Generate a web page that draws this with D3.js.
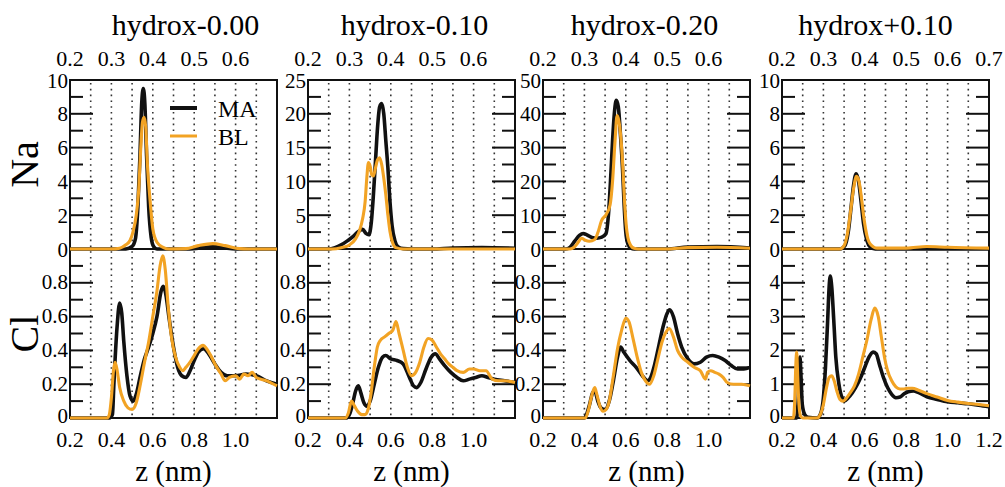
<!DOCTYPE html>
<html>
<head>
<meta charset="utf-8">
<script src="https://cdn.jsdelivr.net/npm/d3@7"></script>
<style>
  html, body { margin: 0; padding: 0; background: #fff; }
  svg { display: block; }
</style>
</head>
<body>
<svg id="chart" width="1005" height="487"></svg>
<script>
// ---- panel titles and axis settings ----
const titles = ["hydrox-0.00", "hydrox-0.10", "hydrox-0.20", "hydrox+0.10"];
const naMax = [10, 25, 50, 10];
const naLabels = [[0, 2, 4, 6, 8, 10], [0, 5, 10, 15, 20, 25], [0, 10, 20, 30, 40, 50], [0, 2, 4, 6, 8, 10]];
const naMinorStep = [1, 2.5, 5, 1];
const clMax = [1, 1, 1, 5];
const clLabels = [[0, 0.2, 0.4, 0.6, 0.8], [0, 0.2, 0.4, 0.6, 0.8], [0, 0.2, 0.4, 0.6, 0.8], [0, 1, 2, 3, 4]];
const clMinorStep = [0.1, 0.1, 0.1, 0.5];
const topLabels = [[0.2, 0.3, 0.4, 0.5, 0.6], [0.2, 0.3, 0.4, 0.5, 0.6], [0.2, 0.3, 0.4, 0.5, 0.6], [0.2, 0.3, 0.4, 0.5, 0.6, 0.7]];
const bottomLabels = [[0.2, 0.4, 0.6, 0.8, 1.0], [0.2, 0.4, 0.6, 0.8, 1.0], [0.2, 0.4, 0.6, 0.8, 1.0], [0.2, 0.4, 0.6, 0.8, 1.0, 1.2]];
const gridZ = [0.3, 0.4, 0.5, 0.6, 0.7, 0.8, 0.9, 1.0, 1.1];
const topDomain = [0.2, 0.7];
const bottomDomain = [0.2, 1.2];
const rightTicks = [false, true, true, true];

// ---- Na density profiles, [z, density] (upper axis) ----
const naMA = [
  [[0.2,0],[0.335,0],[0.35,0.15],[0.358,0.6],[0.364,2.5],[0.369,5.5],[0.373,8.5],[0.377,9.5],[0.381,8.5],[0.385,5.5],[0.39,2.5],[0.396,0.7],[0.402,0.15],[0.41,0],[0.49,0],[0.52,0.08],[0.545,0.15],[0.57,0.08],[0.6,0],[0.7,0]],
  [[0.2,0],[0.25,0],[0.265,0.2],[0.28,0.6],[0.295,1.2],[0.31,1.9],[0.322,2.6],[0.332,2.9],[0.34,2.3],[0.347,2.1],[0.353,4],[0.358,8],[0.363,13],[0.368,18],[0.373,21],[0.378,21.5],[0.383,20],[0.388,16],[0.393,12],[0.398,7],[0.403,3.5],[0.41,1.2],[0.418,0.3],[0.43,0.05],[0.45,0],[0.5,0],[0.55,0.15],[0.62,0.2],[0.7,0.1]],
  [[0.2,0],[0.255,0],[0.265,0.5],[0.277,2.4],[0.288,4],[0.297,4.6],[0.306,4.2],[0.318,3.4],[0.33,3.2],[0.342,3.5],[0.352,4.5],[0.358,10],[0.363,20],[0.368,32],[0.373,41],[0.377,44],[0.382,42],[0.387,34],[0.392,24],[0.396,13],[0.4,5],[0.405,1.5],[0.412,0.3],[0.42,0],[0.5,0],[0.55,0.6],[0.62,0.7],[0.7,0.3]],
  [[0.2,0],[0.34,0],[0.352,0.2],[0.36,1],[0.367,2.5],[0.373,3.8],[0.379,4.45],[0.385,4],[0.391,2.8],[0.397,1.5],[0.404,0.6],[0.412,0.15],[0.425,0],[0.7,0]]
];
const naBL = [
  [[0.2,0],[0.3,0],[0.32,0.05],[0.335,0.25],[0.345,0.5],[0.352,1],[0.36,2],[0.366,3.5],[0.371,6],[0.375,7.5],[0.379,7.8],[0.383,7.2],[0.387,5],[0.393,3],[0.4,1.2],[0.41,0.4],[0.425,0.1],[0.44,0],[0.48,0.02],[0.51,0.2],[0.545,0.32],[0.575,0.2],[0.61,0.02],[0.63,0],[0.7,0]],
  [[0.2,0],[0.26,0],[0.28,0.2],[0.3,0.6],[0.315,1.5],[0.325,2.8],[0.332,4.5],[0.338,7],[0.342,10.5],[0.346,12.8],[0.35,12.3],[0.354,11],[0.358,10.8],[0.363,12],[0.368,13.2],[0.373,13.5],[0.378,12.5],[0.383,10.5],[0.388,8],[0.393,5],[0.398,2.6],[0.404,1],[0.412,0.2],[0.43,0],[0.7,0]],
  [[0.2,0],[0.265,0],[0.275,0.5],[0.285,2],[0.293,3.2],[0.302,2.6],[0.312,2.3],[0.325,2.8],[0.333,5],[0.341,8.3],[0.353,10.3],[0.362,13],[0.368,20],[0.374,32],[0.379,39.5],[0.383,38],[0.388,33],[0.393,24],[0.397,14],[0.401,7],[0.405,3.4],[0.412,1],[0.42,0.2],[0.43,0],[0.5,0],[0.55,0.4],[0.62,0.5],[0.7,0.2]],
  [[0.2,0],[0.34,0],[0.35,0.2],[0.358,0.9],[0.366,2.3],[0.373,3.6],[0.38,4.3],[0.386,4],[0.392,3],[0.398,1.8],[0.405,0.8],[0.413,0.3],[0.43,0.05],[0.5,0.05],[0.55,0.15],[0.6,0.1],[0.7,0.05]]
];

// ---- Cl density profiles, [z, density] (lower axis) ----
const clMA = [
  [[0.2,0],[0.39,0],[0.405,0.02],[0.412,0.2],[0.418,0.35],[0.428,0.55],[0.44,0.68],[0.45,0.62],[0.46,0.45],[0.475,0.25],[0.49,0.13],[0.505,0.1],[0.52,0.14],[0.54,0.25],[0.56,0.35],[0.58,0.42],[0.6,0.5],[0.62,0.6],[0.64,0.75],[0.65,0.78],[0.66,0.75],[0.68,0.58],[0.7,0.42],[0.72,0.3],[0.74,0.25],[0.76,0.24],[0.78,0.28],[0.8,0.34],[0.82,0.39],[0.845,0.41],[0.87,0.38],[0.9,0.32],[0.93,0.27],[0.96,0.25],[1.0,0.25],[1.05,0.26],[1.1,0.25],[1.15,0.22],[1.2,0.2]],
  [[0.2,0],[0.385,0],[0.4,0.02],[0.415,0.08],[0.43,0.16],[0.443,0.19],[0.455,0.15],[0.47,0.09],[0.485,0.07],[0.5,0.1],[0.52,0.2],[0.54,0.3],[0.56,0.36],[0.575,0.37],[0.6,0.35],[0.63,0.34],[0.66,0.32],[0.69,0.24],[0.71,0.19],[0.725,0.18],[0.745,0.21],[0.77,0.29],[0.795,0.36],[0.815,0.38],[0.835,0.35],[0.86,0.31],[0.89,0.27],[0.92,0.24],[0.95,0.22],[0.98,0.23],[1.01,0.24],[1.04,0.25],[1.07,0.24],[1.1,0.23],[1.15,0.22],[1.2,0.21]],
  [[0.2,0],[0.4,0],[0.41,0.02],[0.425,0.08],[0.44,0.15],[0.45,0.16],[0.465,0.1],[0.48,0.06],[0.5,0.05],[0.52,0.1],[0.54,0.22],[0.56,0.36],[0.575,0.42],[0.59,0.39],[0.62,0.34],[0.65,0.3],[0.68,0.25],[0.705,0.22],[0.72,0.24],[0.74,0.32],[0.76,0.43],[0.78,0.54],[0.8,0.62],[0.812,0.64],[0.83,0.6],[0.85,0.5],[0.87,0.42],[0.9,0.35],[0.93,0.32],[0.96,0.33],[0.99,0.36],[1.02,0.37],[1.05,0.36],[1.08,0.34],[1.11,0.31],[1.14,0.29],[1.17,0.29],[1.2,0.3]],
  [[0.2,0],[0.27,0],[0.278,0.5],[0.283,1.5],[0.287,1.8],[0.292,1.2],[0.298,0.4],[0.31,0.1],[0.325,0.02],[0.37,0],[0.385,0.1],[0.4,0.6],[0.41,1.5],[0.42,2.8],[0.427,3.8],[0.433,4.2],[0.44,3.9],[0.45,2.9],[0.46,1.8],[0.475,1.0],[0.49,0.6],[0.5,0.5],[0.52,0.6],[0.54,0.75],[0.56,0.95],[0.58,1.2],[0.6,1.5],[0.62,1.8],[0.64,1.95],[0.655,1.9],[0.67,1.6],[0.69,1.2],[0.71,0.9],[0.73,0.7],[0.75,0.6],[0.77,0.62],[0.79,0.72],[0.81,0.78],[0.835,0.8],[0.86,0.75],[0.9,0.63],[0.95,0.55],[1.0,0.48],[1.05,0.45],[1.1,0.42],[1.15,0.38],[1.2,0.33]]
];
const clBL = [
  [[0.2,0],[0.38,0],[0.39,0.02],[0.4,0.12],[0.41,0.28],[0.418,0.33],[0.428,0.28],[0.44,0.18],[0.46,0.1],[0.48,0.06],[0.5,0.05],[0.52,0.09],[0.54,0.2],[0.56,0.33],[0.58,0.45],[0.6,0.6],[0.62,0.75],[0.635,0.9],[0.648,0.96],[0.66,0.88],[0.675,0.65],[0.69,0.48],[0.71,0.36],[0.73,0.3],[0.745,0.28],[0.76,0.3],[0.78,0.33],[0.8,0.37],[0.82,0.41],[0.843,0.43],[0.86,0.41],[0.88,0.37],[0.9,0.32],[0.93,0.26],[0.95,0.22],[0.97,0.24],[1.0,0.25],[1.02,0.23],[1.04,0.26],[1.06,0.25],[1.08,0.27],[1.1,0.24],[1.15,0.22],[1.2,0.19]],
  [[0.2,0],[0.38,0],[0.395,0.03],[0.41,0.1],[0.425,0.07],[0.44,0.04],[0.46,0.02],[0.475,0.02],[0.49,0.05],[0.505,0.15],[0.52,0.3],[0.535,0.42],[0.55,0.46],[0.57,0.48],[0.59,0.5],[0.61,0.52],[0.625,0.57],[0.64,0.5],[0.66,0.4],[0.68,0.3],[0.7,0.25],[0.72,0.27],[0.74,0.33],[0.76,0.42],[0.78,0.47],[0.8,0.46],[0.82,0.42],[0.84,0.38],[0.86,0.35],[0.88,0.32],[0.9,0.3],[0.92,0.28],[0.95,0.27],[0.98,0.29],[1.0,0.29],[1.03,0.28],[1.06,0.28],[1.09,0.23],[1.12,0.22],[1.15,0.22],[1.2,0.21]],
  [[0.2,0],[0.405,0],[0.42,0.05],[0.435,0.13],[0.45,0.18],[0.46,0.14],[0.475,0.07],[0.49,0.04],[0.505,0.05],[0.52,0.1],[0.54,0.25],[0.56,0.41],[0.58,0.52],[0.6,0.59],[0.615,0.57],[0.635,0.47],[0.655,0.36],[0.675,0.27],[0.695,0.22],[0.715,0.2],[0.735,0.25],[0.755,0.35],[0.775,0.45],[0.795,0.51],[0.81,0.53],[0.83,0.48],[0.85,0.4],[0.87,0.36],[0.9,0.33],[0.93,0.3],[0.96,0.28],[0.985,0.23],[0.995,0.27],[1.01,0.28],[1.03,0.27],[1.05,0.26],[1.07,0.24],[1.09,0.21],[1.12,0.2],[1.16,0.2],[1.2,0.19]],
  [[0.2,0],[0.255,0],[0.262,0.6],[0.267,1.6],[0.271,1.95],[0.276,1.2],[0.282,0.4],[0.29,0.05],[0.3,0],[0.37,0],[0.385,0.1],[0.4,0.4],[0.415,0.9],[0.428,1.2],[0.44,1.25],[0.452,1.1],[0.465,0.8],[0.48,0.55],[0.495,0.5],[0.51,0.58],[0.53,0.75],[0.55,0.95],[0.57,1.3],[0.59,1.8],[0.61,2.3],[0.63,2.9],[0.648,3.25],[0.665,3.0],[0.68,2.4],[0.695,1.8],[0.71,1.4],[0.73,1.1],[0.75,0.92],[0.77,0.86],[0.79,0.86],[0.81,0.88],[0.83,0.88],[0.86,0.82],[0.9,0.72],[0.95,0.62],[1.0,0.52],[1.05,0.47],[1.1,0.43],[1.15,0.4],[1.2,0.36]]
];

const seriesNames = ["MA", "BL"];
const seriesColors = ["#111111", "#f2a324"];
const seriesWidths = [3.6, 3.1];

// ---- layout ----
const FONT = "'Liberation Serif', 'Times New Roman', Times, serif";
const svg = d3.select("#chart").style("font-family", FONT);
const panelLeft = [70, 308, 543, 782];
const panelW = 207;
const yTop = 80, yMid = 249, yBot = 418;
const majorLen = 23, minorLen = 13;
const labelFont = 21;

const line = (xs, ys) => d3.line().x(d => xs(d[0])).y(d => ys(d[1])).curve(d3.curveMonotoneX);
const fmtCl = (v, max) => v === 0 ? "0" : (max <= 1 ? v.toFixed(1) : String(v));

titles.forEach((title, i) => {
  const x0 = panelLeft[i], x1 = x0 + panelW;
  const xBottom = d3.scaleLinear().domain(bottomDomain).range([x0, x1]);
  const xTop = d3.scaleLinear().domain(topDomain).range([x0, x1]);
  const yNa = d3.scaleLinear().domain([0, naMax[i]]).range([yMid, yTop]);
  const yCl = d3.scaleLinear().domain([0, clMax[i]]).range([yBot, yMid]);
  const g = svg.append("g");

  // dotted vertical grid through both rows
  g.selectAll("line.grid").data(gridZ).join("line")
    .attr("x1", d => xBottom(d)).attr("x2", d => xBottom(d))
    .attr("y1", yTop + 3).attr("y2", yBot)
    .attr("stroke", "#333").attr("stroke-width", 1.6)
    .attr("stroke-dasharray", "1.6,4.2");

  // frames
  [[yTop, yMid], [yMid, yBot]].forEach(([a, b]) => {
    g.append("rect").attr("x", x0).attr("y", a).attr("width", panelW).attr("height", b - a)
      .attr("fill", "none").attr("stroke", "#111").attr("stroke-width", 2);
  });

  // y ticks (major + minor), drawn inward from the frame
  const drawTicks = (scale, max, majors, minorStep) => {
    const minors = d3.range(0, max + 1e-9, minorStep).filter(v => !majors.some(m => Math.abs(m - v) < 1e-9));
    const sides = rightTicks[i] ? [[x0, 1], [x1, -1]] : [[x0, 1]];
    sides.forEach(([xs, dir]) => {
      g.selectAll(null).data(d3.range(0, max + 1e-9, majors[1] - majors[0])).join("line")
        .attr("x1", xs).attr("x2", xs + dir * majorLen)
        .attr("y1", d => scale(d)).attr("y2", d => scale(d))
        .attr("stroke", "#111").attr("stroke-width", 2);
      g.selectAll(null).data(minors).join("line")
        .attr("x1", xs).attr("x2", xs + dir * minorLen)
        .attr("y1", d => scale(d)).attr("y2", d => scale(d))
        .attr("stroke", "#111").attr("stroke-width", 2);
    });
  };
  drawTicks(yNa, naMax[i], naLabels[i], naMinorStep[i]);
  drawTicks(yCl, clMax[i], clLabels[i], clMinorStep[i]);

  // y tick labels
  g.selectAll(null).data(naLabels[i]).join("text")
    .attr("x", x0 - 2).attr("y", d => yNa(d)).attr("dy", "0.36em")
    .attr("text-anchor", "end").attr("font-size", labelFont)
    .text(d => String(d));
  g.selectAll(null).data(clLabels[i]).join("text")
    .attr("x", x0 - 2).attr("y", d => yCl(d)).attr("dy", d => d === 0 ? "0.22em" : "0.3em")
    .attr("text-anchor", "end").attr("font-size", labelFont)
    .text(d => fmtCl(d, clMax[i]));

  // top and bottom x tick labels
  g.selectAll(null).data(topLabels[i]).join("text")
    .attr("x", d => xTop(d)).attr("y", 66)
    .attr("text-anchor", "middle").attr("font-size", labelFont + 1)
    .text(d => d.toFixed(1));
  g.selectAll(null).data(bottomLabels[i]).join("text")
    .attr("x", d => xBottom(d)).attr("y", 447)
    .attr("text-anchor", "middle").attr("font-size", labelFont + 1)
    .text(d => d.toFixed(1));

  // title and x label
  g.append("text").attr("x", (x0 + x1) / 2 + [12, 3, -2, -10][i]).attr("y", 35)
    .attr("text-anchor", "middle").attr("font-size", 30).text(title);
  g.append("text").attr("x", (x0 + x1) / 2).attr("y", 481)
    .attr("text-anchor", "middle").attr("font-size", 29).text("z (nm)");

  // density curves: MA beneath, BL on top
  [naMA[i], naBL[i]].forEach((data, k) => {
    g.append("path").attr("d", line(xTop, yNa)(data))
      .attr("fill", "none").attr("stroke", seriesColors[k]).attr("stroke-width", seriesWidths[k])
      .attr("stroke-linejoin", "round");
  });
  [clMA[i], clBL[i]].forEach((data, k) => {
    g.append("path").attr("d", line(xBottom, yCl)(data))
      .attr("fill", "none").attr("stroke", seriesColors[k]).attr("stroke-width", seriesWidths[k])
      .attr("stroke-linejoin", "round");
  });
});

// row labels
[["Na", (yTop + yMid) / 2], ["Cl", (yMid + yBot) / 2]].forEach(([t, cy]) => {
  svg.append("text").attr("transform", `translate(38,${cy}) rotate(-90)`)
    .attr("text-anchor", "middle").attr("font-size", 40).text(t);
});

// legend
const legend = svg.append("g");
seriesNames.forEach((name, k) => {
  const y = 108 + k * 28;
  legend.append("line").attr("x1", 170).attr("x2", 197).attr("y1", y).attr("y2", y)
    .attr("stroke", seriesColors[k]).attr("stroke-width", k === 0 ? 4 : 3);
  legend.append("text").attr("x", 218).attr("y", y + 9).attr("font-size", 24).text(name);
});
</script>
</body>
</html>
